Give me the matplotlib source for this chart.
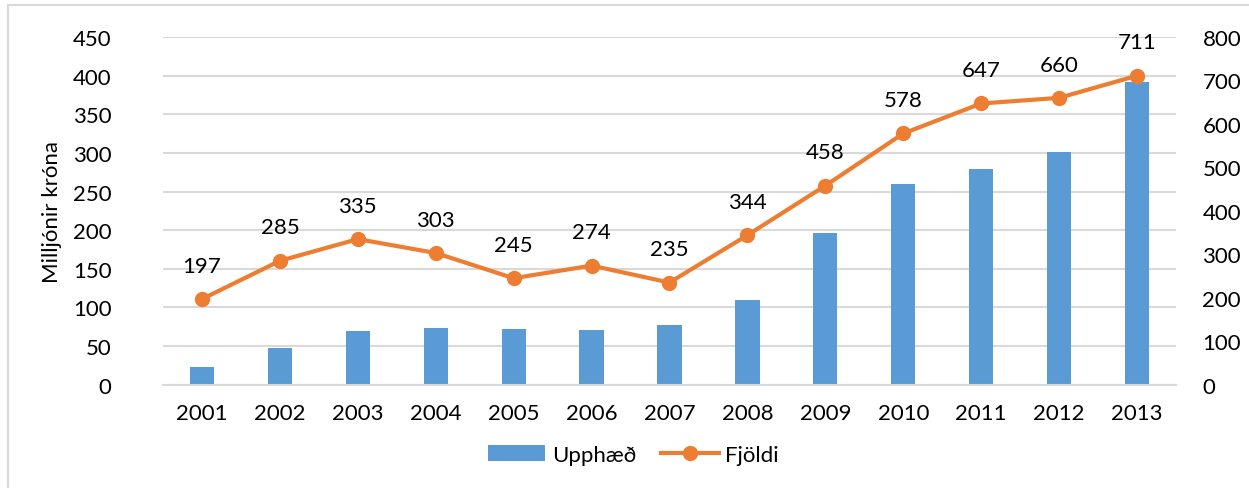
import matplotlib
matplotlib.use("Agg")
import matplotlib.pyplot as plt
from matplotlib.lines import Line2D
import numpy as np

years = ["2001", "2002", "2003", "2004", "2005", "2006", "2007",
         "2008", "2009", "2010", "2011", "2012", "2013"]
upphaed = [23, 47, 70, 73, 72, 71, 77, 110, 196, 260, 279, 301, 392]
fjoldi = [197, 285, 335, 303, 245, 274, 235, 344, 458, 578, 647, 660, 711]

blue = "#5B9BD5"
orange = "#ED7D31"
grid_c = "#D9D9D9"

plt.rcParams["font.family"] = ["Lato", "DejaVu Sans"]
fs = 16

W, H = 1249, 489
fig = plt.figure(figsize=(W / 100, H / 100), dpi=100)
ax = fig.add_axes([163 / W, 1 - 385.7 / H, (1176 - 163) / W, (385.7 - 38) / H])
x = np.arange(len(years))

ax.bar(x, upphaed, width=0.31, color=blue, zorder=2, label="Upphæð")
ax.set_ylim(0, 450)
ax.set_yticks(range(0, 451, 50))
ax.set_xlim(-0.5, len(years) - 0.5)
ax.set_xticks(x)
ax.set_xticklabels(years)
ax.grid(axis="y", color=grid_c, linewidth=1.5, zorder=0)
ax.set_axisbelow(True)
for s in ["top", "right", "left"]:
    ax.spines[s].set_visible(False)
ax.spines["bottom"].set_color(grid_c)
ax.spines["bottom"].set_linewidth(1.5)
ax.tick_params(length=0, labelsize=fs, colors="black")
ax.tick_params(axis="x", pad=13)
ax.tick_params(axis="y", pad=37)
ax.set_ylabel("Milljónir króna", fontsize=fs, labelpad=8)

ax2 = ax.twinx()
ax2.plot(x, fjoldi, color=orange, linewidth=3, marker="o", markersize=10,
         zorder=3, label="Fjöldi")
ax2.set_ylim(0, 800)
ax2.set_yticks(range(0, 801, 100))
for s in ax2.spines.values():
    s.set_visible(False)
ax2.tick_params(length=0, labelsize=fs, pad=19)
for xi, v in zip(x, fjoldi):
    ax2.annotate(str(v), (xi, v), xytext=(0, 24), textcoords="offset points",
                 ha="center", va="center", fontsize=fs)

h1, l1 = ax.get_legend_handles_labels()
h2, l2 = ax2.get_legend_handles_labels()
fig.legend(h1 + h2, l1 + l2, loc="center", bbox_to_anchor=(0.507, 0.068),
           ncol=2, frameon=False, fontsize=fs, handlelength=2.6,
           columnspacing=1.1, handletextpad=0.3)

# outer frame (left and top edges visible)
fig.add_artist(Line2D([8 / W, 8 / W], [0, 1 - 6 / H], transform=fig.transFigure,
                      color="#D9D9D9", linewidth=1.5))
fig.add_artist(Line2D([8 / W, 1], [1 - 6 / H, 1 - 6 / H], transform=fig.transFigure,
                      color="#D9D9D9", linewidth=1.5))

fig.savefig("out.png", dpi=100)
